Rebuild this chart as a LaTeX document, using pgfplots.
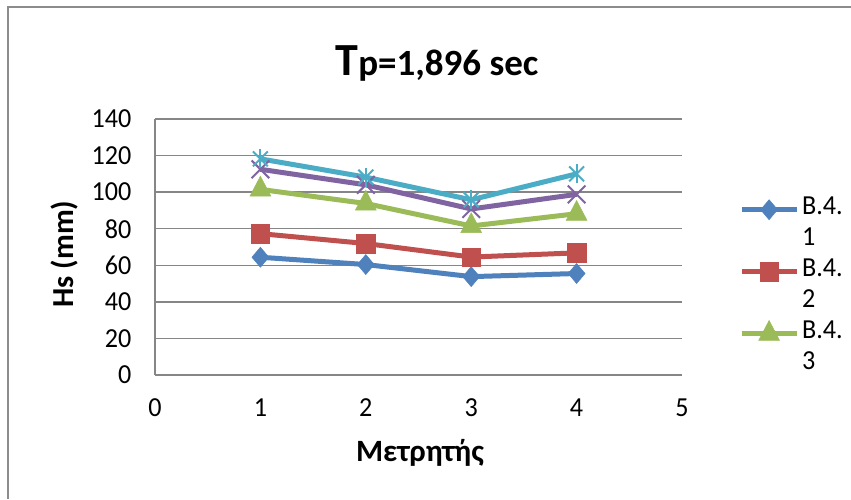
\documentclass[border=0pt]{standalone}
\usepackage{fontspec}
\setmainfont{Carlito}
\newfontfamily\tickfont{Carlito}[FakeStretch=0.95]
\usepackage{pgfplots}
\pgfplotsset{compat=1.18}
\definecolor{c1}{HTML}{4F81BD}
\definecolor{c2}{HTML}{C0504D}
\definecolor{c3}{HTML}{9BBB59}
\definecolor{c4}{HTML}{8064A2}
\definecolor{c5}{HTML}{4BACC6}
\definecolor{gridc}{HTML}{868686}
\definecolor{framec}{HTML}{8C8C8C}
\begin{document}
\begin{tikzpicture}[x=1pt,y=1pt]
\useasboundingbox (0,0) rectangle (851,499);
\fill[white] (0,0) rectangle (851,499);
\draw[framec, line width=1.5pt] (8,0) -- (8,492) -- (851,492);
\node[anchor=base, font=\bfseries] at (437,423.5) {\fontsize{46}{50}\selectfont T\fontsize{37}{40}\selectfont p=1,896 sec};
\node[rotate=90, font=\bfseries\fontsize{30.5}{34}\selectfont] at (64,245) {Hs (mm)};
\node[font=\bfseries\fontsize{31}{35}\selectfont] at (420,46) {Μετρητής};
\begin{axis}[
  at={(155pt,124pt)}, anchor=south west,
  scale only axis, width=527pt, height=256pt,
  xmin=0, xmax=5, ymin=0, ymax=140,
  xtick={0,1,2,3,4,5}, ytick={0,20,40,60,80,100,120,140},
  axis lines*=left,
  axis line style={draw=gridc, line width=1.4pt},
  major tick length=0pt,
  ymajorgrids,
  grid style={draw=gridc, line width=1.4pt},
  /pgf/number format/assume math mode=true,
  tick label style={font=\tickfont\fontsize{27.5}{31}\selectfont},
  yticklabel style={xshift=-20pt},
  xticklabel style={yshift=-20pt},
  every axis plot/.append style={line width=5pt},
  legend image code/.code={\draw[mark repeat=2,mark phase=2] plot coordinates {(0pt,0pt) (27.5pt,0pt) (55pt,0pt)};},
  legend style={at={(1.108,0.707)}, anchor=north west, draw=none, fill=none,
    inner sep=0pt, row sep=0pt, column sep=3pt,
    font=\tickfont\fontsize{27.5}{31}\selectfont,
    nodes={inner sep=0pt, text height=20pt, text depth=11pt}},
  legend cell align=left,
]
\addplot[c1, mark=diamond*, mark size=10pt, mark options={solid, xscale=1.13, line width=0.5pt}] coordinates {(1,64.4) (2,60.4) (3,53.8) (4,55.5)};
\addlegendentry{B.4.}
\addlegendimage{empty legend}\addlegendentry{1}
\addplot[c2, mark=square*, mark size=9.3pt, mark options={solid, line width=0.5pt}] coordinates {(1,77.3) (2,71.9) (3,64.5) (4,66.8)};
\addlegendentry{B.4.}
\addlegendimage{empty legend}\addlegendentry{2}
\addplot[c3, mark=triangle*, mark size=12pt, mark options={solid, yscale=1.1, line width=0.5pt}] coordinates {(1,101.5) (2,93.8) (3,81.5) (4,88.2)};
\addlegendentry{B.4.}
\addlegendimage{empty legend}\addlegendentry{3}
\addplot[c4, mark=x, mark size=12.5pt, mark options={solid, line width=2pt}, forget plot] coordinates {(1,112.5) (2,104) (3,90.8) (4,98.8)};
\addplot[c5, mark=x, mark size=10.5pt, mark options={solid, line width=2pt}, forget plot] coordinates {(1,118.2) (2,108.2) (3,95.8) (4,110)};
\addplot[c5, only marks, mark=|, mark size=9.5pt, mark options={solid, line width=2pt}, forget plot] coordinates {(1,118.2) (2,108.2) (3,95.8) (4,110)};
\end{axis}
\end{tikzpicture}
\end{document}
